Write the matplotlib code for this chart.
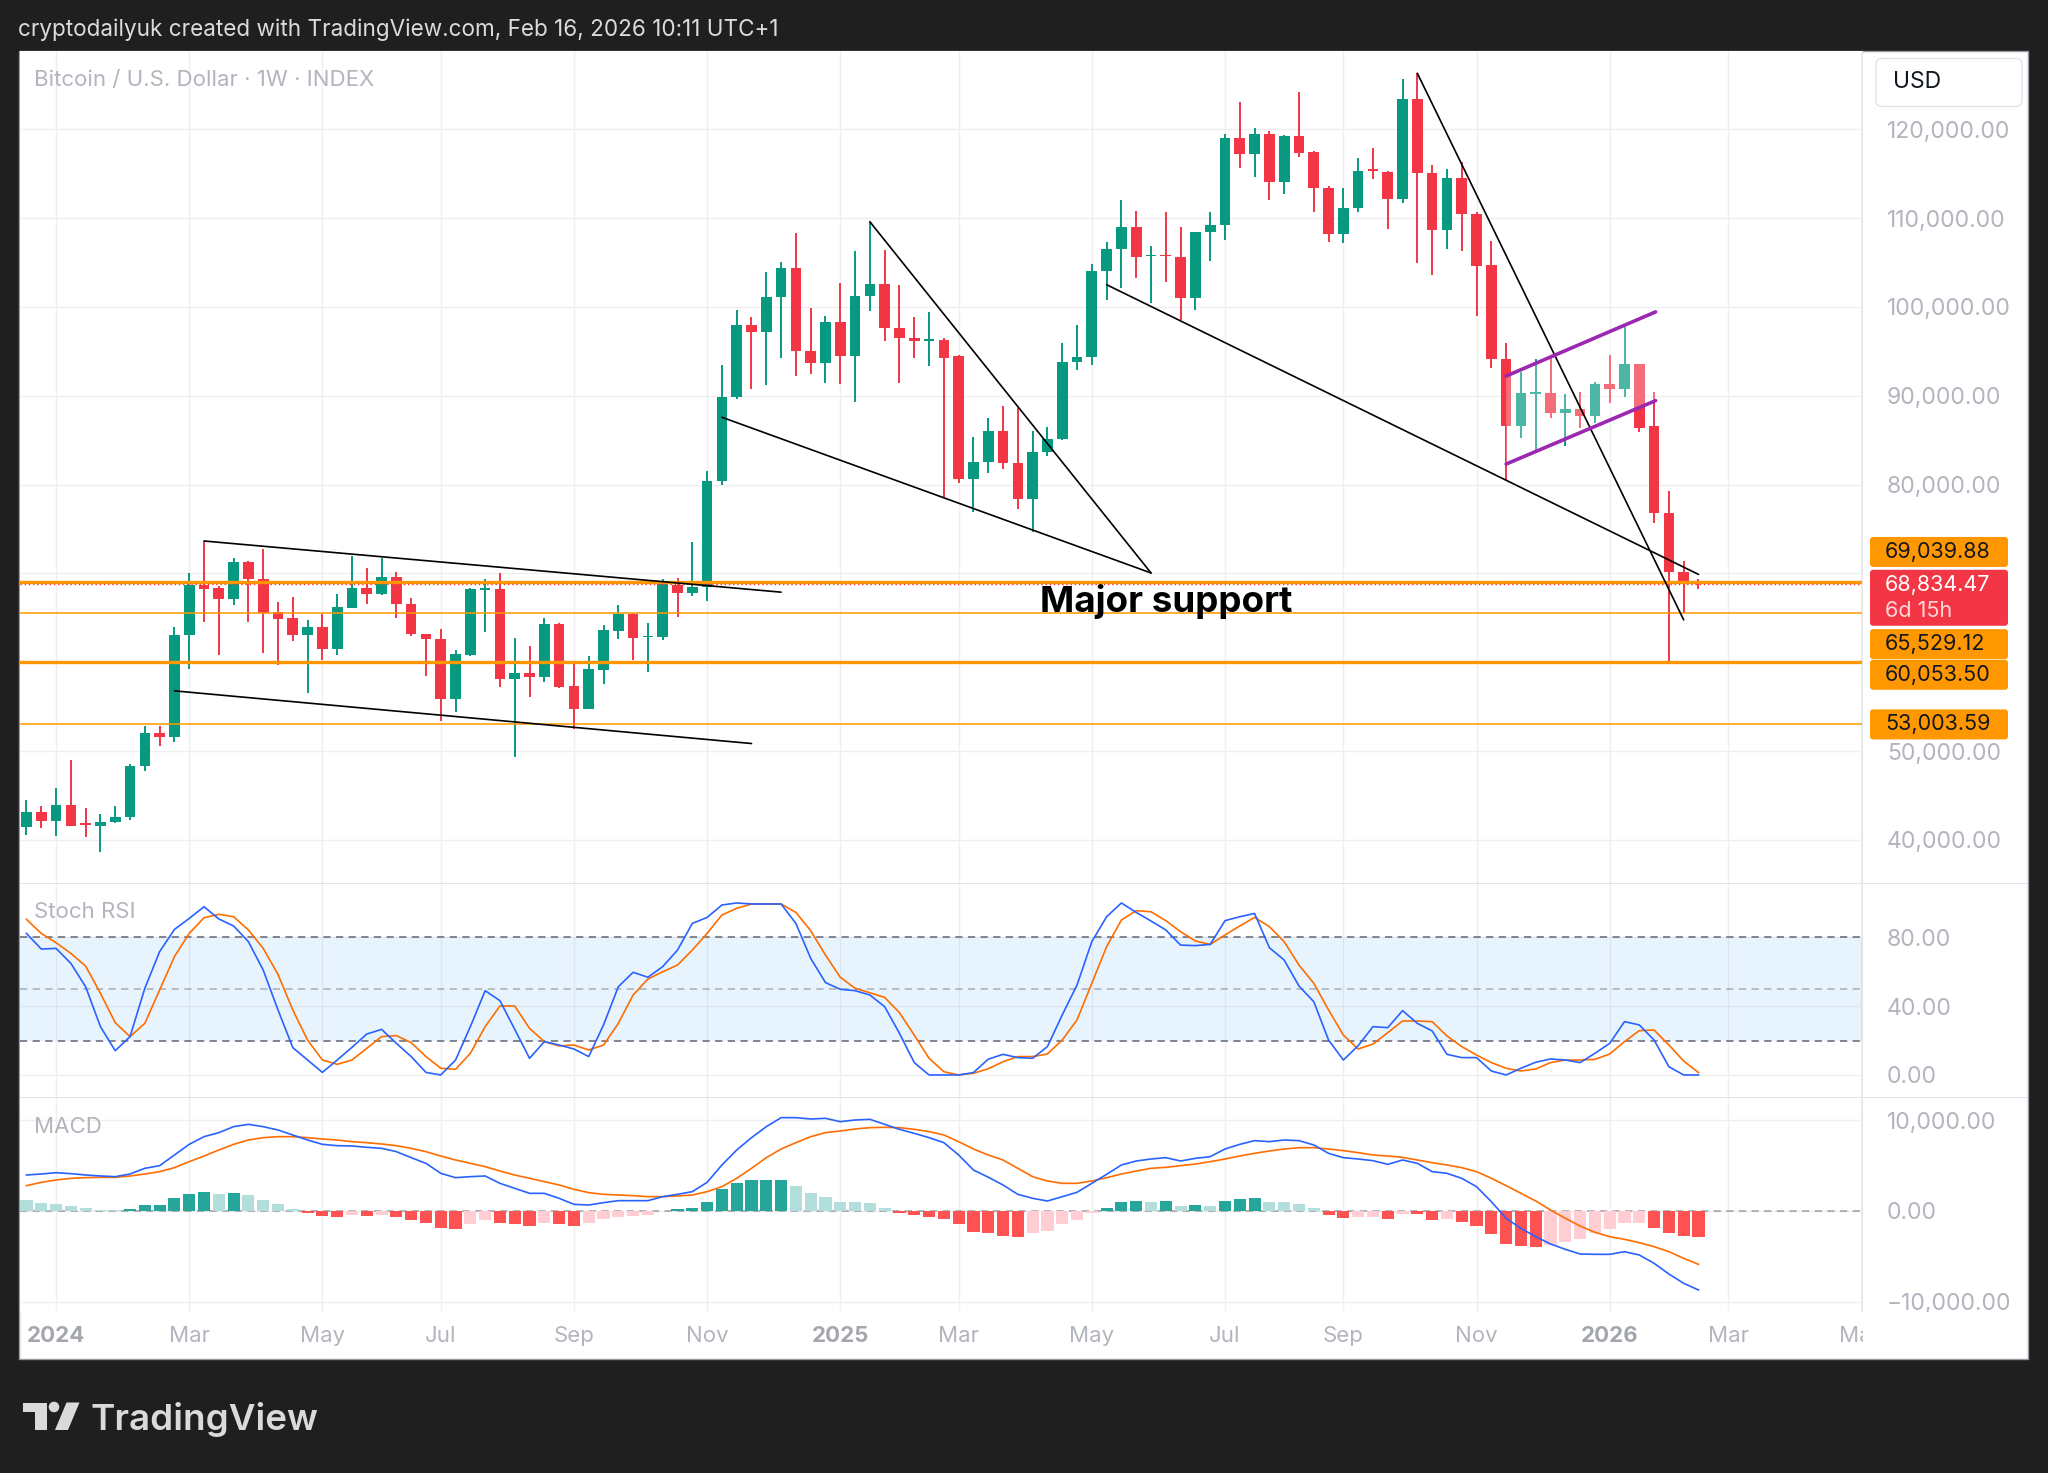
import numpy as np
import pandas as pd
import matplotlib
matplotlib.use("Agg")
import matplotlib.pyplot as plt
from matplotlib.patches import Rectangle, FancyBboxPatch, Polygon, Circle
from matplotlib.ticker import FuncFormatter
from matplotlib.transforms import IdentityTransform

plt.rcParams['font.family'] = ['Inter', 'DejaVu Sans']

W, H, DPI = 2048, 1473, 100

# weekly BTC candles, first bar = week of 2023-12-18
opens = [41400, 43090, 42150, 43920, 41850, 41520, 41970, 42530, 48340, 52090,
         51640, 63080, 68700, 68370, 67170, 71330, 69340, 65670, 64950, 63040,
         64020, 61470, 66150, 68400, 67650, 69600, 66600, 63150, 62670, 55840,
         60830, 68180, 68290, 58090, 58770, 58390, 64280, 57300, 54790, 59140,
         63530, 65400, 62850, 62850, 68700, 67840, 68480, 80380, 89830, 98000,
         97210, 101150, 104380, 95080, 93650, 98260, 94510, 101260, 102580, 97630,
         96460, 96200, 96280, 94510, 80640, 82590, 86080, 82400, 78390, 83640,
         85140, 93760, 94400, 104080, 106510, 109020, 105690, 105840, 105580, 101000,
         108460, 109240, 119000, 117190, 119440, 114110, 119250, 117490, 113440, 108260,
         111110, 115500, 115240, 112130, 123450, 115050, 108680, 114490, 110440, 104700,
         94130, 86650, 90240, 90280, 88030, 88480, 87730, 91290, 90760, 93530,
         86540, 76810, 70190, 69100]
highs = [44480, 43800, 45900, 48980, 43540, 42900, 43770, 48530, 52840, 52840,
         64020, 70020, 73650, 68600, 71700, 71400, 72790, 66830, 67390, 64770,
         65400, 67730, 71970, 70580, 71780, 70170, 67280, 63230, 63790, 61390,
         68400, 69420, 70090, 62780, 61840, 65030, 64470, 59970, 60720, 64170,
         66450, 65500, 64470, 69340, 69530, 73540, 81500, 93460, 99650, 98830,
         103890, 105010, 108310, 99880, 98940, 102690, 106330, 109590, 106400, 102500,
         98830, 99460, 96460, 94600, 85330, 87460, 88810, 88630, 86080, 86450,
         95900, 97960, 104830, 107260, 112030, 110750, 106810, 110630, 108950, 108490,
         110630, 119440, 123110, 120190, 119810, 119300, 124200, 117550, 113560, 113360,
         116740, 117860, 115300, 125700, 126300, 115950, 115500, 116360, 110740, 107440,
         95890, 92710, 94090, 94200, 90160, 90390, 91590, 94580, 97760, 93600,
         90460, 79240, 71390, 69350]
lows = [40580, 41290, 40470, 41520, 40280, 38590, 41850, 42270, 47780, 50520,
        50970, 59290, 64540, 60790, 66420, 64540, 61090, 59670, 62400, 56590,
        60270, 60830, 66080, 66600, 67550, 65030, 63000, 58470, 53400, 54420,
        60720, 63420, 57230, 49280, 56140, 57830, 57100, 52540, 54720, 57530,
        62590, 60270, 58920, 62520, 65100, 67470, 66950, 80000, 89640, 90760,
        91210, 94250, 92260, 92450, 91440, 91330, 89340, 99500, 96200, 91440,
        94250, 93390, 78580, 80190, 76890, 81310, 81760, 77260, 74710, 83190,
        85060, 92940, 93500, 100810, 102120, 103210, 100440, 102760, 98560, 99680,
        105190, 107510, 115690, 114680, 112010, 112690, 116890, 110740, 107360, 107250,
        110630, 114450, 108750, 111680, 104930, 103610, 106500, 106310, 99000, 93080,
        80550, 85300, 83920, 87470, 84290, 86350, 86910, 89150, 89900, 85900,
        75690, 60100, 65590, 68200]
closes = [43090, 42150, 43920, 41590, 41670, 41970, 42530, 48340, 52090, 51640,
          63080, 68700, 68290, 67170, 71330, 69340, 65590, 64920, 63040, 64020,
          61470, 66230, 68400, 67650, 69600, 66600, 63150, 62670, 55840, 60900,
          68220, 68330, 58090, 58770, 58390, 64280, 57230, 54790, 59220, 63600,
          65400, 62700, 62970, 68780, 67840, 68480, 80380, 89830, 98000, 97210,
          101150, 104380, 95080, 93650, 98260, 94510, 101260, 102580, 97630, 96460,
          96130, 96390, 94250, 80640, 82590, 86080, 82400, 78390, 83640, 85140,
          93760, 94400, 104080, 106510, 108950, 105650, 105840, 105690, 101000, 108460,
          109240, 119060, 117190, 119440, 114110, 119250, 117380, 113440, 108260, 111110,
          115310, 115310, 112130, 123450, 115130, 108680, 114490, 110440, 104630, 94130,
          86650, 90280, 90350, 88030, 88480, 87730, 91290, 90760, 93530, 86420,
          76810, 70190, 68880, 68834.47]

stoch_k = [82.3, 73.2, 73.6, 64.9, 51.3, 28.1, 14.1, 22.3, 50.4, 71.7,
           84.6, 91.0, 97.8, 90.7, 86.6, 77.5, 61.0, 37.8, 15.9, 8.7,
           1.5, 8.7, 16.1, 23.8, 26.5, 18.4, 10.7, 1.5, 0.0, 8.7,
           28.1, 49.0, 43.2, 26.5, 9.7, 19.4, 17.4, 15.1, 10.7, 29.1,
           51.3, 59.7, 56.8, 63.0, 72.6, 88.1, 91.6, 98.8, 100.0, 99.4,
           99.4, 99.4, 88.1, 67.8, 53.7, 49.8, 49.0, 46.5, 39.7, 24.2,
           7.2, 0.0, 0.0, 0.0, 1.4, 9.2, 12.0, 10.1, 9.7, 16.5,
           34.9, 52.3, 77.5, 92.0, 100.0, 94.5, 89.5, 84.3, 75.5, 75.2,
           75.9, 89.7, 92.0, 93.9, 74.0, 66.8, 51.7, 42.6, 20.3, 8.7,
           17.0, 28.1, 27.5, 37.4, 30.0, 25.6, 12.0, 10.1, 10.1, 2.3,
           0.0, 3.9, 7.4, 9.3, 8.7, 7.2, 12.6, 18.4, 31.0, 29.1,
           20.3, 4.8, 0.0, 0.0]
stoch_d = [90.5, 82.3, 76.9, 70.7, 63.3, 47.5, 30.4, 22.3, 30.0, 49.4,
           68.8, 82.3, 91.4, 93.4, 92.0, 84.3, 73.6, 58.5, 37.8, 20.3,
           8.7, 6.2, 8.7, 15.5, 22.3, 22.9, 18.8, 10.7, 3.9, 3.3,
           12.6, 28.1, 40.1, 40.1, 27.1, 19.4, 16.9, 17.4, 14.5, 17.4,
           30.0, 46.5, 55.8, 60.0, 63.9, 72.6, 82.3, 93.0, 96.9, 99.4,
           99.4, 99.4, 94.5, 83.9, 69.7, 56.8, 50.4, 47.8, 45.1, 36.2,
           23.2, 9.7, 1.9, 0.0, 1.0, 3.6, 7.7, 10.7, 10.7, 12.2,
           20.3, 32.0, 53.3, 74.6, 90.1, 95.5, 94.9, 89.7, 83.3, 77.9,
           75.9, 81.4, 86.6, 91.6, 86.2, 77.5, 63.9, 53.3, 37.8, 23.2,
           15.1, 18.0, 24.6, 31.4, 31.4, 31.0, 22.7, 16.5, 11.6, 7.2,
           3.9, 2.3, 3.5, 7.2, 8.7, 8.7, 9.1, 12.2, 19.4, 25.8,
           26.1, 17.4, 8.1, 1.4]

macd_line = [3964, 4074, 4220, 4110, 3964, 3854, 3780, 4074, 4697, 4991,
             6166, 7340, 8184, 8625, 9285, 9542, 9285, 8918, 8368, 7817,
             7340, 7193, 7157, 7010, 6900, 6533, 5872, 5248, 4147, 3670,
             3780, 3854, 3046, 2496, 1945, 1945, 1395, 734, 661, 918,
             1138, 1138, 1138, 1578, 1835, 2129, 3156, 5065, 6716, 8074,
             9285, 10276, 10276, 10129, 10203, 9836, 10019, 10093, 9542, 8992,
             8551, 8074, 7524, 6166, 4514, 3720, 2863, 1835, 1395, 1101,
             1578, 2055, 3046, 4037, 5065, 5505, 5725, 5872, 5505, 5799,
             5982, 6826, 7340, 7744, 7634, 7817, 7744, 7267, 6349, 5872,
             5725, 5542, 5138, 5615, 5248, 4331, 4147, 3597, 2679, 1028,
             -807, -1908, -2826, -3633, -4220, -4734, -4771, -4771, -4477, -4844,
             -5762, -6936, -7964, -8698]
signal_line = [2789, 3156, 3413, 3597, 3670, 3707, 3707, 3854, 4074, 4331,
               4771, 5432, 6056, 6716, 7340, 7817, 8074, 8184, 8184, 8074,
               7927, 7817, 7634, 7524, 7377, 7193, 6900, 6533, 6056, 5615,
               5248, 4881, 4404, 3964, 3597, 3230, 2863, 2386, 2019, 1835,
               1762, 1688, 1578, 1578, 1652, 1762, 2129, 2679, 3597, 4697,
               5872, 6826, 7524, 8184, 8625, 8808, 9028, 9175, 9212, 9175,
               8992, 8735, 8368, 7634, 6826, 6166, 5615, 4698, 3780, 3303,
               3046, 3046, 3303, 3670, 4074, 4404, 4698, 4808, 4991, 5175,
               5432, 5725, 6056, 6349, 6606, 6826, 6973, 6973, 6826, 6643,
               6423, 6166, 6056, 5909, 5615, 5322, 5065, 4771, 4331, 3597,
               2789, 1945, 1101, 110, -807, -1652, -2349, -2826, -3120, -3487,
               -3927, -4477, -5212, -5872]

# horizontal levels drawn on the chart
levels = [69039.88, 65529.12, 60053.50, 53003.59]
level_widths = [2.4, 1.1, 2.4, 1.1]
last_price = 68834.47
# price ticks whose labels sit under the level boxes
covered_ticks = [60000, 70000]
# trendlines (bar index, price)
black_lines = [((12, 73650), (51.0, 67890)),
               ((10, 56780), (49.0, 50850)),
               ((57, 109590), (76.0, 70050)),
               ((47, 87580), (76.0, 70050)),
               ((73.0, 102500), (113.0, 69890)),
               ((94.0, 126300), (112.0, 64770))]
channel_upper = ((100.0, 92220), (110.1, 99440))
channel_lower = ((100.0, 82310), (110.1, 89450))

opens, highs, lows, closes = map(np.array, (opens, highs, lows, closes))
n = len(closes)
x = np.arange(n)

weeks = pd.date_range('2023-12-18', periods=127, freq='W-MON')
tick_pos, tick_lab = [], []
for i in range(1, len(weeks)):
    d, p = weeks[i], weeks[i - 1]
    if d.month != p.month and d.month % 2 == 1:
        tick_pos.append(i)
        tick_lab.append(str(d.year) if d.month == 1 else d.strftime('%b'))

fig = plt.figure(figsize=(W / DPI, H / DPI), dpi=DPI, facecolor='#1F1F1F')


def rect(x0, y0, x1, y1):
    return [x0 / W, 1 - y1 / H, (x1 - x0) / W, (y1 - y0) / H]


fig.add_artist(Rectangle((19, H - 1359), 2028 - 19, 1359 - 51, transform=IdentityTransform(),
                         facecolor='white', edgecolor='#9598A1', lw=1, zorder=-10))

ax_p = fig.add_axes(rect(19.5, 51, 1862, 883))
ax_s = fig.add_axes(rect(19.5, 883, 1862, 1097))
ax_m = fig.add_axes(rect(19.5, 1097, 1862, 1311))

XLIM = (-0.47, 124.05)
grid_c = '#EFEFEF'
for ax in (ax_p, ax_s, ax_m):
    ax.set_xlim(*XLIM)
    ax.set_facecolor('white')
    for s in ('top', 'left', 'bottom'):
        ax.spines[s].set_visible(False)
    ax.spines['right'].set_color('#E6E6E6')
    ax.set_xticks(tick_pos)
    ax.grid(True, color=grid_c, lw=1, zorder=0)
    ax.set_axisbelow(True)
    ax.yaxis.tick_right()
    ax.tick_params(axis='y', length=0, pad=18, labelsize=16.5, labelcolor='#B2B5BE')
    ax.tick_params(axis='x', length=0)
ax_p.set_xticklabels([])
ax_s.set_xticklabels([])

# ---- price pane
ax_p.set_ylim(35150, 128810)
ax_p.set_yticks(np.arange(40000, 121000, 10000))
ax_p.yaxis.set_major_formatter(
    FuncFormatter(lambda v, _: '' if round(v) in covered_ticks else f'{v:,.2f}'))

col = np.where(closes >= opens, '#089981', '#F23645')
ax_p.vlines(x, lows, highs, colors=col, lw=1.4, zorder=3)
body_lo = np.minimum(opens, closes)
body_h = np.maximum(np.abs(closes - opens), 160)
ax_p.bar(x, body_h, 0.72, bottom=body_lo, color=col, lw=0, zorder=4)

# faded area inside the purple channel
ax_p.add_patch(Polygon([channel_upper[0], channel_upper[1], channel_lower[1], channel_lower[0]],
                       closed=True, facecolor='white', alpha=0.28, lw=0, zorder=4.5))

for lv, lw in zip(levels, level_widths):
    ax_p.axhline(lv, color='#FF9800', lw=lw, zorder=5)
ax_p.axhline(last_price, color='#F23645', lw=1, ls=(0, (1, 2)), zorder=5)

for (x0, y0), (x1, y1) in black_lines:
    ax_p.plot([x0, x1], [y0, y1], color='black', lw=1.2, zorder=6, solid_capstyle='round')
for (x0, y0), (x1, y1) in (channel_upper, channel_lower):
    ax_p.plot([x0, x1], [y0, y1], color='#9C27B0', lw=2.6, zorder=6, solid_capstyle='round')

ax_p.text(68.5, 66850, 'Major support', fontsize=26.5, fontweight='bold', color='black',
          va='center', ha='left', zorder=7)

# ---- stoch rsi pane
ax_s.set_ylim(-12.8, 111.6)
ax_s.set_yticks([0, 40, 80])
ax_s.yaxis.set_major_formatter(FuncFormatter(lambda v, _: f'{v:.2f}'))
ax_s.axhspan(20, 80, color='#2196F3', alpha=0.1, lw=0, zorder=1)
ax_s.axhline(80, color='#787B86', lw=1.3, ls=(0, (4, 3)), zorder=2)
ax_s.axhline(20, color='#787B86', lw=1.3, ls=(0, (4, 3)), zorder=2)
ax_s.axhline(50, color='#787B86', alpha=0.5, lw=1.3, ls=(0, (4, 3)), zorder=2)
ax_s.plot(x, stoch_k, color='#2962FF', lw=1.2, zorder=4)
ax_s.plot(x, stoch_d, color='#FF6D00', lw=1.2, zorder=3)

# ---- macd pane
ax_m.set_ylim(-11010, 12551)
ax_m.set_yticks([-10000, 0, 10000])
ax_m.yaxis.set_major_formatter(FuncFormatter(lambda v, _: f'{v:,.2f}'.replace('-', '\u2212')))
hist = np.array(macd_line) - np.array(signal_line)
hcol = []
for i, h in enumerate(hist):
    prev = hist[i - 1] if i > 0 else h
    if h >= 0:
        hcol.append('#26A69A' if h > prev else '#B2DFDB')
    else:
        hcol.append('#FF5252' if h < prev else '#FFCDD2')
ax_m.bar(x, hist, 0.82, color=hcol, lw=0, zorder=2)
ax_m.axhline(0, color='#787B86', alpha=0.6, lw=1.3, ls=(0, (4, 3)), zorder=1)
ax_m.plot(x, macd_line, color='#2962FF', lw=1.2, zorder=4)
ax_m.plot(x, signal_line, color='#FF6D00', lw=1.2, zorder=3)
ax_m.set_xticklabels(tick_lab)
ax_m.tick_params(axis='x', pad=11, labelsize=16, labelcolor='#B2B5BE')
for lbl in ax_m.get_xticklabels():
    if lbl.get_text().isdigit():
        lbl.set_fontweight('bold')
        lbl.set_color('#A3A6AF')

# pane separators
for yy in (883, 1097):
    fig.add_artist(Rectangle((19.5, H - yy - 0.5), 2028 - 19.5, 1, transform=IdentityTransform(),
                             facecolor='#E0E3EB', lw=0, zorder=2))
# hide the overflow of the last time label past the chart edge
fig.add_artist(Rectangle((1863, H - 1358), 2027 - 1863, 1358 - 1312, transform=IdentityTransform(),
                         facecolor='white', lw=0, zorder=3))

# ---- price axis labels for the levels


def box(x0, yc, w, h, color):
    fig.add_artist(FancyBboxPatch((x0, yc - h / 2), w, h, boxstyle='round,pad=0,rounding_size=3',
                                  transform=IdentityTransform(), facecolor=color, lw=0, zorder=5))


def line_y(v):
    return ax_p.transData.transform((0, v))[1]


level_shift = [30, -31, -13, 0]
for lv, sh in zip(levels, level_shift):
    yc = line_y(lv) + sh
    box(1870, yc, 138, 30, '#FF9800')
    fig.text(1885 / W, yc / H, f'{lv:,.2f}', fontsize=15.5, color='#131722', va='center',
             ha='left', zorder=6)
yc = line_y(last_price) - 14
box(1870, yc, 138, 56, '#F23645')
fig.text(1885 / W, (yc + 12.5) / H, f'{last_price:,.2f}', fontsize=15.5, color='white',
         va='center', ha='left', zorder=6)
fig.text(1885 / W, (yc - 13.5) / H, '6d 15h', fontsize=15.5, color='white', alpha=0.8,
         va='center', ha='left', zorder=6)

# USD box
fig.add_artist(FancyBboxPatch((1876, H - 106.5), 146, 48, boxstyle='round,pad=0,rounding_size=6',
                              transform=IdentityTransform(), facecolor='white',
                              edgecolor='#E0E3EB', lw=1, zorder=5))
fig.text(1893 / W, 1 - 82 / H, 'USD', fontsize=16.5, color='#131722', va='center', zorder=6)

# pane titles
fig.text(34 / W, 1 - 80 / H, 'Bitcoin / U.S. Dollar \u00b7 1W \u00b7 INDEX', fontsize=16,
         color='#B2B5BE', va='center')
fig.text(34 / W, 1 - 912 / H, 'Stoch RSI', fontsize=16, color='#B2B5BE', va='center')
fig.text(34 / W, 1 - 1127 / H, 'MACD', fontsize=16, color='#B2B5BE', va='center')

# header
fig.text(18 / W, 1 - 30 / H, 'cryptodailyuk created with TradingView.com, Feb 16, 2026 10:11 UTC+1',
         fontsize=16.2, color='#DBDBDB', va='center')

# TradingView logo
logo_c = '#DADADA'
fig.add_artist(Rectangle((22.5, H - 1411.5), 24.5, 9, transform=IdentityTransform(),
                         facecolor=logo_c, lw=0))
fig.add_artist(Rectangle((35, H - 1430), 12, 27.5, transform=IdentityTransform(),
                         facecolor=logo_c, lw=0))
fig.add_artist(Circle((54, H - 1407), 5.3, transform=IdentityTransform(), facecolor=logo_c, lw=0))
fig.add_artist(Polygon([(66.5, H - 1402.5), (79.5, H - 1402.5), (68, H - 1430), (55, H - 1430)],
                       closed=True, transform=IdentityTransform(), facecolor=logo_c, lw=0))
fig.text(90 / W, 1 - 1430 / H, 'TradingView', fontsize=26.5, fontweight='semibold',
         color=logo_c, va='baseline')

fig.savefig('out.png', dpi=DPI, facecolor=fig.get_facecolor())
